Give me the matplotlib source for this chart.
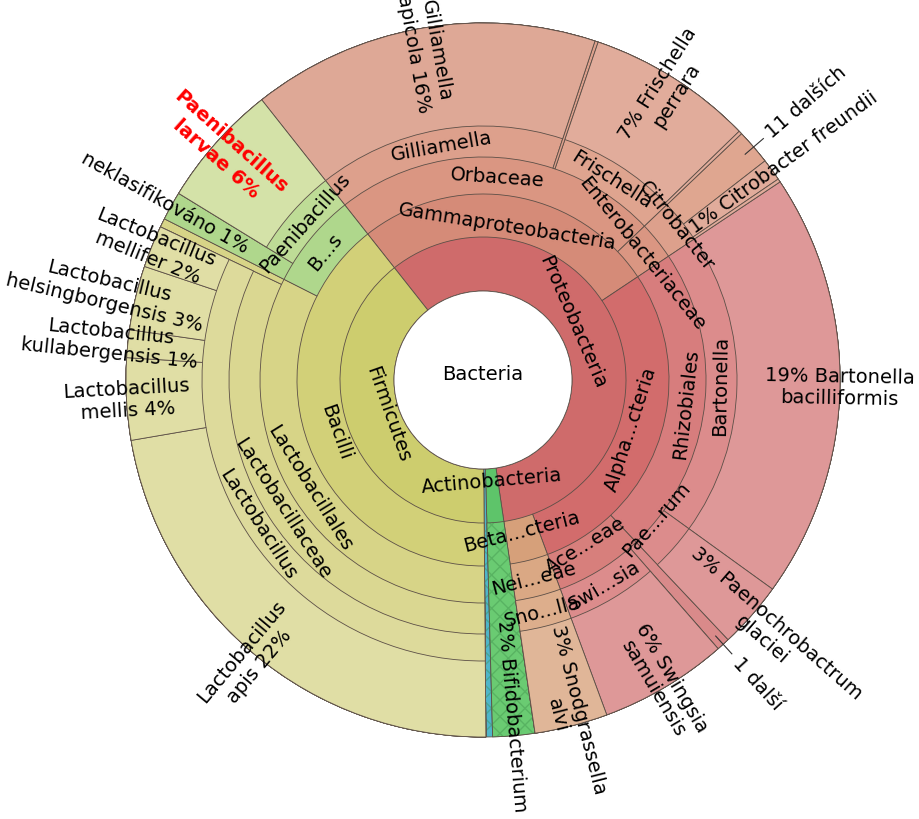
import numpy as np
import matplotlib.pyplot as plt
from matplotlib.patches import Wedge, Circle

plt.rcParams['font.family'] = ['DejaVu Sans']

# Krona-like taxonomy, values = % of reads
names = ["Bacteria",
         "Proteobacteria", "Gammaproteobacteria", "Orbaceae", "Gilliamella", "Gilliamella apicola",
         "Frischella", "Frischella perrara", "Enterobacteriaceae", "Citrobacter", "11 dalších",
         "Citrobacter freundii", "Alphaproteobacteria", "Rhizobiales", "Bartonella",
         "Bartonella bacilliformis", "Paenochrobactrum", "Paenochrobactrum glaciei",
         "Acetobacteraceae", "1 další", "Swingsia", "Swingsia samuiensis",
         "Betaproteobacteria", "Neisseriaceae", "Snodgrassella", "Snodgrassella alvi",
         "Actinobacteria", "Bifidobacterium", "other",
         "Firmicutes", "Bacilli", "Lactobacillales", "Lactobacillaceae", "Lactobacillus",
         "Lactobacillus apis", "Lactobacillus mellis", "Lactobacillus kullabergensis",
         "Lactobacillus helsingborgensis", "Lactobacillus mellifer", "Lactobacillales unassigned",
         "Bacillales", "neklasifikováno", "Paenibacillus", "Paenibacillus larvae",
         "Orbaceae other", "Frischella other", "Citrobacter other"]
parents = [-1,
           0, 1, 2, 3, 4,
           3, 6, 2, 8, 9,
           9, 1, 12, 13,
           14, 13, 16,
           12, 18, 18, 20,
           1, 22, 23, 24,
           0, 26, 0,
           0, 29, 30, 31, 32,
           33, 33, 33,
           33, 33, 31,
           30, 40, 40, 42,
           3, 6, 9]
depths = [0,
          1, 2, 3, 4, 5,
          4, 5, 3, 4, 5,
          5, 2, 3, 4,
          5, 4, 5,
          3, 4, 4, 5,
          2, 3, 4, 5,
          1, 2, 1,
          1, 2, 3, 4, 5,
          6, 6, 6,
          6, 6, 4,
          3, 4, 4, 5,
          4, 5, 5]
values = [0,
          0, 0, 0, 0, 15.7,
          0, 7.5, 0, 0, 1.6,
          1.0, 0, 0, 0,
          19.3, 0, 3.0,
          0, 0.6, 0, 5.8,
          0, 0, 0, 3.3,
          0, 1.9, 0.3,
          0, 0, 0, 0, 0,
          22.4, 3.7, 1.25,
          2.9, 1.9, 0.4,
          0, 1.3, 0, 5.6,
          0.15, 0.15, 0.15]
colors = ["#ffffff",
          "#cf6b6b", "#d58b78", "#da9682", "#dda08c", "#dea896",
          "#dfa48f", "#e1ac9b", "#da9682", "#dda08c", "#dfa690",
          "#e1ac9b", "#d26c6c", "#d77d7d", "#dc8c8c",
          "#de9898", "#dc8c8c", "#de9898",
          "#d77f7c", "#d98a8a", "#dc8c8c", "#de9898",
          "#d6a07a", "#daa884", "#ddae8c", "#e0b698",
          "#5ec46a", "#6acb72", "#4fb5c9",
          "#cdcd6e", "#d2d078", "#d7d487", "#dad791", "#ddda9b",
          "#e0dea5", "#e0dea5", "#e0dea5",
          "#e0dea5", "#e0dea5", "#d7d487",
          "#afd78c", "#afd78c", "#bedc96", "#d4e2a8",
          "#dda08c", "#e1ac9b", "#e1ac9b"]

# label text and style: 't' tangential, 'r' radial leaf label, 'm' "N more" label
labels = {1: ("Proteobacteria", "t"), 2: ("Gammaproteobacteria", "t"), 3: ("Orbaceae", "t"),
          4: ("Gilliamella", "t"), 5: ("Gilliamella\napicola 16%", "r"),
          6: ("Frischella", "t"), 7: ("7% Frischella\nperrara", "r"),
          8: ("Enterobacteriaceae", "t"), 9: ("Citrobacter", "t"), 10: ("11 dalších", "m"),
          11: ("1% Citrobacter freundii", "r"), 12: ("Alpha...cteria", "t"),
          13: ("Rhizobiales", "t"), 14: ("Bartonella", "t"),
          15: ("19% Bartonella\nbacilliformis", "r"), 16: ("Pae...rum", "t"),
          17: ("3% Paenochrobactrum\nglaciei", "r"), 18: ("Ace...eae", "t"),
          19: ("1 další", "m"), 20: ("Swi...sia", "t"), 21: ("6% Swingsia\nsamuiensis", "r"),
          22: ("Beta...cteria", "t"), 23: ("Nei...eae", "t"), 24: ("Sno...lla", "t"),
          25: ("3% Snodgrassella\nalvi", "r"), 26: ("Actinobacteria", "t"),
          27: ("2% Bifidobacterium", "r"),
          29: ("Firmicutes", "t"), 30: ("Bacilli", "t"), 31: ("Lactobacillales", "t"),
          32: ("Lactobacillaceae", "t"), 33: ("Lactobacillus", "t"),
          34: ("Lactobacillus\napis 22%", "r"), 35: ("Lactobacillus\nmellis 4%", "r"),
          36: ("Lactobacillus\nkullabergensis 1%", "r"),
          37: ("Lactobacillus\nhelsingborgensis 3%", "r"),
          38: ("Lactobacillus\nmellifer 2%", "r"), 40: ("B...s", "t"),
          41: ("neklasifikováno 1%", "r"), 42: ("Paenibacillus", "t"),
          43: ("Paenibacillus\nlarvae 6%", "r")}

# layout (pixels)
cx, cy = 483, 439
radii = [89, 143, 186, 223, 254, 281, 357]
tan_r = [0, 101, 156, 204, 238, 267]
start_angle = 321.7
leaf_r = {5: 274, 7: 280, 11: 258, 15: 282, 17: 270, 21: 290, 25: 255, 27: 240,
          34: 299, 35: 293, 36: 286, 37: 286, 38: 293, 41: 270, 43: 275}
label_r = {1: 107, 9: 248, 16: 222, 18: 194}
label_th = {1: 57.0, 16: 128.5}
edge = "#5c4f47"
fs = 14.0

n = len(names)
children = [[] for _ in range(n)]
for i, p in enumerate(parents):
    if p >= 0:
        children[p].append(i)
# keep the tiny extra wedges where they sit in the chart
children[3] = [4, 44, 6]
children[6] = [7, 45]
children[9] = [10, 11, 46]

total = list(values)
for i in sorted(range(n), key=lambda k: -depths[k]):
    if parents[i] >= 0:
        total[parents[i]] += total[i]

scale = 360.0 / total[0]
start = np.zeros(n)
span = np.zeros(n)


def place(i, a):
    start[i] = a
    span[i] = total[i] * scale
    b = a
    for c in children[i]:
        place(c, b)
        b += total[c] * scale


place(0, start_angle)


def pol(r, th):
    t = np.radians(th)
    return cx + r * np.sin(t), cy + r * np.cos(t)


fig = plt.figure(figsize=(9.19, 8.2), dpi=100)
ax = fig.add_axes([0, 0, 1, 1])
ax.set_xlim(0, 919)
ax.set_ylim(0, 820)
ax.set_aspect('equal')
ax.axis('off')

R = radii[-1]
for i in sorted(range(1, n), key=lambda k: depths[k]):
    r0 = radii[depths[i] - 1]
    a1 = 90 - (start[i] + span[i])
    a2 = 90 - start[i]
    ax.add_patch(Wedge((cx, cy), R, a1, a2, width=R - r0, facecolor=colors[i],
                       edgecolor=edge, lw=0.6))
    if parents[i] == 26 or i == 28:
        ax.add_patch(Wedge((cx, cy), R, a1, a2, width=R - radii[1], facecolor='none',
                           edgecolor='#3f8f4a', lw=0, hatch='xx', alpha=0.4))

ax.add_patch(Circle((cx, cy), radii[0], facecolor='white', edgecolor=edge, lw=0.6))
ax.text(cx, cy + 6, "Bacteria", ha='center', va='center', fontsize=fs)

for i, (txt, kind) in labels.items():
    mid = (start[i] + span[i] / 2) % 360
    th = label_th.get(i, mid)
    if kind == 't':
        x, y = pol(label_r.get(i, tan_r[depths[i]]), th)
        rot = -mid
        if 90 < mid < 270:
            rot += 180
        ax.text(x, y, txt, rotation=rot, rotation_mode='anchor', ha='center',
                va='center', fontsize=fs)
    else:
        r_in = leaf_r.get(i, 377)
        if kind == 'm':
            xs, ys = zip(pol(346, th), pol(370, th))
            ax.plot(xs, ys, color='#333333', lw=0.8)
        x, y = pol(r_in, th)
        if th < 180:
            rot, ha = 90 - th, 'left'
        else:
            rot, ha = 270 - th, 'right'
        style = dict(color='black')
        if i == 43:
            style = dict(color='#ff0000', fontweight='bold')
        ax.text(x, y, txt, rotation=rot, rotation_mode='anchor', ha=ha, va='center',
                multialignment='center', fontsize=fs, **style)

fig.savefig("out.png", dpi=100)
